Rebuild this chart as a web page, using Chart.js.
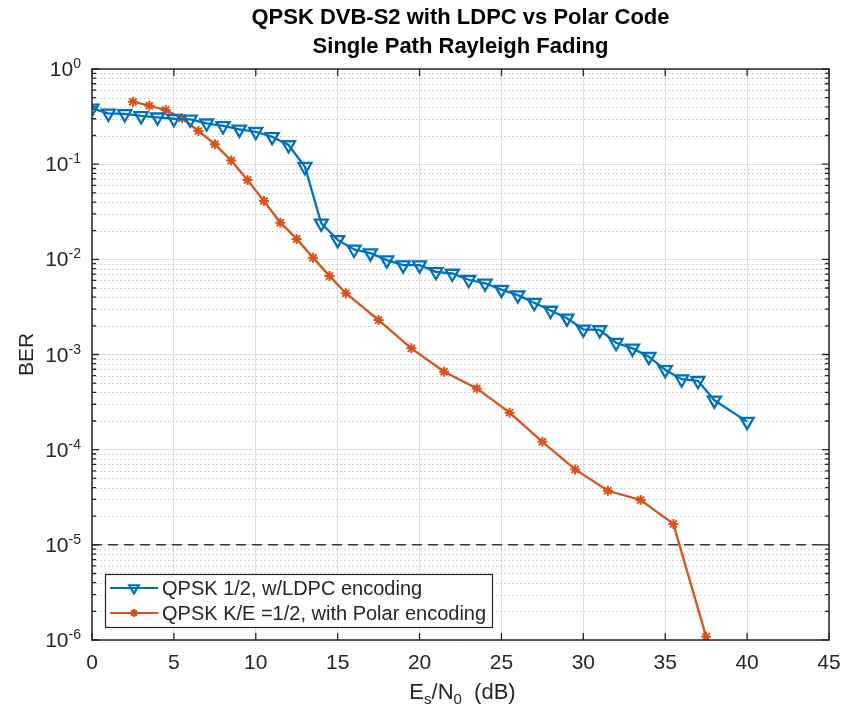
<!DOCTYPE html>
<html>
<head>
<meta charset="utf-8">
<title>QPSK DVB-S2 with LDPC vs Polar Code</title>
<script src="https://cdn.jsdelivr.net/npm/chart.js@4.4.1/dist/chart.umd.min.js"></script>
<style>
  html, body { margin: 0; padding: 0; background: #fff; }
  #wrap { width: 847px; height: 707px; }
</style>
</head>
<body>
<div id="wrap"><canvas id="berChart" width="847" height="707"></canvas></div>
<script>
// ---- data ----
const ldpcSnr = [0, 1, 2, 3, 4, 5, 6, 7, 8, 9, 10, 11, 12, 13, 14, 15, 16, 17, 18, 19,
                 20, 21, 22, 23, 24, 25, 26, 27, 28, 29, 30, 31, 32, 33, 34, 35, 36, 37, 38, 40];
const ldpcBer = [0.385, 0.342, 0.337, 0.321, 0.311, 0.30, 0.296, 0.269, 0.252, 0.232,
                 0.219, 0.194, 0.159, 0.094, 0.0239, 0.016, 0.0127, 0.0116, 0.0098, 0.0087,
                 0.0087, 0.0074, 0.0071, 0.0061, 0.0056, 0.0048, 0.0042, 0.0035, 0.0029, 0.0024,
                 0.00184, 0.00181, 0.00133, 0.00116, 0.00095, 0.00069, 0.00055, 0.00053, 0.00033, 0.000197];

const polarSnr = [2.5, 3.5, 4.5, 5.5, 6.5, 7.5, 8.5, 9.5, 10.5, 11.5, 12.5, 13.5, 14.5, 15.5,
                  17.5, 19.5, 21.5, 23.5, 25.5, 27.5, 29.5, 31.5, 33.5, 35.5, 37.5];
const polarBer = [0.453, 0.411, 0.371, 0.303, 0.223, 0.162, 0.109, 0.068, 0.041, 0.0243, 0.0164,
                  0.0104, 0.0067, 0.0044, 0.0023, 0.00116, 0.00066, 0.00044, 0.000245, 0.000121,
                  6.2e-5, 3.7e-5, 2.96e-5, 1.66e-5, 1.08e-6];

const targetBer = 1e-5;

const xTicks = [0, 5, 10, 15, 20, 25, 30, 35, 40, 45];
const yExponents = [0, -1, -2, -3, -4, -5, -6];

const titleLines = ['QPSK DVB-S2 with LDPC vs Polar Code', 'Single Path Rayleigh Fading'];
const ldpcLabel = 'QPSK 1/2, w/LDPC encoding';
const polarLabel = 'QPSK K/E =1/2, with Polar encoding';

// ---- styling ----
const FONT = '"Liberation Sans", Arial, Helvetica, sans-serif';
const blue = '#0072BD';
const orange = '#D95319';
const axisColor = '#262626';
const majorGrid = '#dedede';
const minorGrid = '#c8c8c8';

function pieceText(ctx, parts, x, y, align) {
  // parts: [text, size, dy]
  let total = 0;
  parts.forEach(p => {
    ctx.font = p[1] + 'px ' + FONT;
    total += ctx.measureText(p[0]).width;
  });
  let cx = align === 'right' ? x - total : align === 'center' ? x - total / 2 : x;
  ctx.textAlign = 'left';
  ctx.textBaseline = 'alphabetic';
  parts.forEach(p => {
    ctx.font = p[1] + 'px ' + FONT;
    ctx.fillText(p[0], cx, y + p[2]);
    cx += ctx.measureText(p[0]).width;
  });
}

const matlabAxes = {
  id: 'matlabAxes',
  beforeDatasetsDraw(chart) {
    const ctx = chart.ctx;
    const a = chart.chartArea;
    const ys = chart.scales.y;
    ctx.save();
    ctx.strokeStyle = minorGrid;
    ctx.lineWidth = 1;
    ctx.setLineDash([1.5, 2.5]);
    for (let e = -6; e < 0; e++) {
      for (let m = 2; m <= 9; m++) {
        const py = Math.round(ys.getPixelForValue(m * Math.pow(10, e))) + 0.5;
        ctx.beginPath();
        ctx.moveTo(a.left, py);
        ctx.lineTo(a.right, py);
        ctx.stroke();
      }
    }
    ctx.restore();
  },
  afterDatasetsDraw(chart) {
    const ctx = chart.ctx;
    const a = chart.chartArea;
    const xs = chart.scales.x;
    const ys = chart.scales.y;
    ctx.save();

    // axes box
    ctx.strokeStyle = axisColor;
    ctx.lineWidth = 1.5;
    ctx.strokeRect(a.left, a.top, a.right - a.left, a.bottom - a.top);

    // inward ticks
    ctx.lineWidth = 1.3;
    ctx.beginPath();
    xTicks.forEach(v => {
      const px = xs.getPixelForValue(v);
      ctx.moveTo(px, a.bottom); ctx.lineTo(px, a.bottom - 7);
      ctx.moveTo(px, a.top); ctx.lineTo(px, a.top + 7);
    });
    yExponents.forEach(e => {
      const py = ys.getPixelForValue(Math.pow(10, e));
      ctx.moveTo(a.left, py); ctx.lineTo(a.left + 7, py);
      ctx.moveTo(a.right, py); ctx.lineTo(a.right - 7, py);
    });
    for (let e = -6; e < 0; e++) {
      for (let m = 2; m <= 9; m++) {
        const py = ys.getPixelForValue(m * Math.pow(10, e));
        ctx.moveTo(a.left, py); ctx.lineTo(a.left + 4, py);
        ctx.moveTo(a.right, py); ctx.lineTo(a.right - 4, py);
      }
    }
    ctx.stroke();

    // tick labels
    ctx.fillStyle = axisColor;
    ctx.font = '21px ' + FONT;
    ctx.textAlign = 'center';
    ctx.textBaseline = 'middle';
    xTicks.forEach(v => {
      ctx.fillText(String(v), xs.getPixelForValue(v), a.bottom + 23);
    });
    yExponents.forEach(e => {
      const py = ys.getPixelForValue(Math.pow(10, e));
      pieceText(ctx, [['10', 21, 7], [String(e), 14, -1]], a.left - 11, py, 'right');
    });

    // axis labels
    pieceText(ctx, [['E', 22, 0], ['s', 15, 5], ['/N', 22, 0], ['0', 15, 5], ['  (dB)', 22, 0]],
      (a.left + a.right) / 2 + 2, 699, 'center');
    ctx.save();
    ctx.translate(27, (a.top + a.bottom) / 2);
    ctx.rotate(-Math.PI / 2);
    ctx.font = '21px ' + FONT;
    ctx.textAlign = 'center';
    ctx.textBaseline = 'middle';
    ctx.fillText('BER', 0, 0);
    ctx.restore();

    // title
    ctx.fillStyle = '#000';
    ctx.font = 'bold 22px ' + FONT;
    ctx.textAlign = 'center';
    ctx.textBaseline = 'middle';
    titleLines.forEach((t, i) => ctx.fillText(t, (a.left + a.right) / 2, 18 + i * 29));

    // legend
    const lx = 105, ly = 574, lw = 387, lh = 53;
    ctx.fillStyle = '#fff';
    ctx.fillRect(lx, ly, lw, lh);
    ctx.strokeStyle = axisColor;
    ctx.lineWidth = 1.2;
    ctx.strokeRect(lx + 0.5, ly + 0.5, lw, lh);
    const rows = [
      { label: ldpcLabel, color: blue, style: 'triangle', rotation: 180, radius: 5.5, y: ly + 14 },
      { label: polarLabel, color: orange, style: 'star', rotation: 0, radius: 4, y: ly + 39 }
    ];
    rows.forEach(r => {
      ctx.strokeStyle = r.color;
      ctx.fillStyle = 'rgba(255,255,255,0)';
      ctx.lineWidth = 2.2;
      ctx.beginPath();
      ctx.moveTo(lx + 5, r.y);
      ctx.lineTo(lx + 53, r.y);
      ctx.stroke();
      Chart.helpers.drawPoint(ctx, { pointStyle: r.style, rotation: r.rotation, radius: r.radius, borderWidth: 2 }, lx + 29, r.y);
      ctx.fillStyle = axisColor;
      ctx.font = '20px ' + FONT;
      ctx.textAlign = 'left';
      ctx.textBaseline = 'middle';
      ctx.fillText(r.label, lx + 57, r.y + 1);
    });

    ctx.restore();
  }
};

const ctx = document.getElementById('berChart').getContext('2d');
const chart = new Chart(ctx, {
  type: 'line',
  data: {
    datasets: [
      {
        label: ldpcLabel,
        data: ldpcSnr.map((x, i) => ({ x: x, y: ldpcBer[i] })),
        borderColor: blue,
        borderWidth: 2.3,
        pointStyle: 'triangle',
        rotation: 180,
        pointRadius: 7.5,
        pointBorderWidth: 2.3,
        pointBorderColor: blue,
        pointBackgroundColor: 'rgba(255,255,255,0)',
        tension: 0
      },
      {
        label: polarLabel,
        data: polarSnr.map((x, i) => ({ x: x, y: polarBer[i] })),
        borderColor: orange,
        borderWidth: 2.3,
        pointStyle: 'star',
        pointRadius: 5,
        pointBorderWidth: 2,
        pointBorderColor: orange,
        pointBackgroundColor: orange,
        tension: 0
      },
      {
        label: 'target',
        data: [{ x: xTicks[0], y: targetBer }, { x: xTicks[xTicks.length - 1], y: targetBer }],
        borderColor: '#3c3c3c',
        borderWidth: 1.5,
        borderDash: [10, 6],
        pointRadius: 0
      }
    ]
  },
  options: {
    responsive: false,
    animation: false,
    devicePixelRatio: 1,
    layout: { padding: { top: 69, right: 18, left: 0, bottom: 0 } },
    plugins: {
      legend: { display: false },
      title: { display: false },
      tooltip: { enabled: false }
    },
    scales: {
      x: {
        type: 'linear',
        min: xTicks[0],
        max: xTicks[xTicks.length - 1],
        afterBuildTicks: s => { s.ticks = xTicks.map(v => ({ value: v })); },
        afterFit: s => { s.height = 67; },
        ticks: { display: false },
        grid: { color: majorGrid, lineWidth: 1, drawTicks: false },
        border: { display: false }
      },
      y: {
        type: 'logarithmic',
        min: Math.pow(10, yExponents[yExponents.length - 1]),
        max: Math.pow(10, yExponents[0]),
        afterBuildTicks: s => { s.ticks = yExponents.map(e => ({ value: Math.pow(10, e) })); },
        afterFit: s => { s.width = 92; },
        ticks: { display: false },
        grid: { color: majorGrid, lineWidth: 1, drawTicks: false },
        border: { display: false }
      }
    }
  },
  plugins: [matlabAxes]
});
</script>
</body>
</html>
